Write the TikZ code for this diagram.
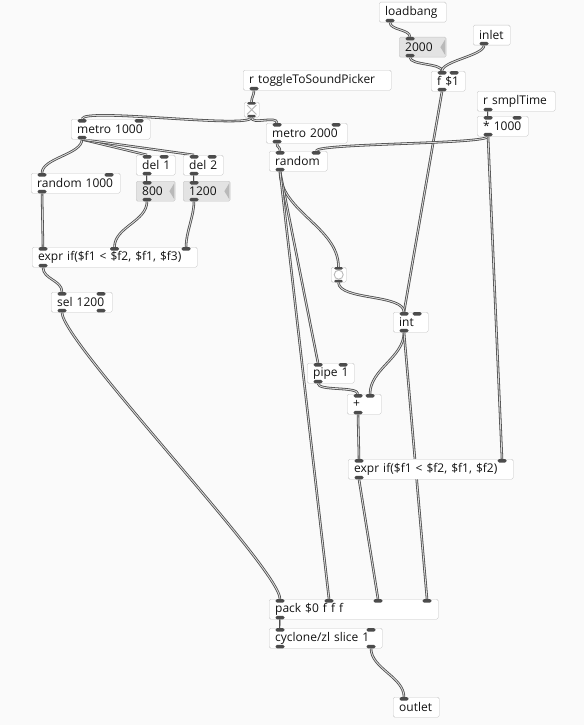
\documentclass[tikz,border=0pt]{standalone}
\usepackage{fontspec}
\setmainfont{Open Sans}
\usepackage{tikz}

\pgfdeclarelayer{bg}
\pgfdeclarelayer{wires}
\pgfsetlayers{bg,wires,main}

% inlets / outlets along one edge of a box
\newcommand{\pdports}[6]{%
  \ifnum#3>0
    \pgfmathsetmacro{\pins}{min(11,#2/2)}%
    \foreach \k in {1,...,#3}{%
      \pgfmathsetmacro{\px}{\pins+(\k-1)*(#2-2*\pins)/max(#3-1,1)}%
      \coordinate (#1-#5\k) at ([xshift=\px pt]#1.#4 west);
      \fill[port] ([xshift=-4.5pt]#1-#5\k) rectangle ++(9,#6);
    }%
  \fi}
% object box: [style]{name}{x,y}{width}{text}{inlets}{outlets}
\newcommand{\pdobj}[7][obj]{%
  \pgfmathsetmacro{\tw}{#4-12}%
  \node[#1, text width=\tw pt, anchor=north west] (#2) at (#3) {\mbox{#5}};
  \pdports{#2}{#4}{#6}{north}{i}{3.5}
  \pdports{#2}{#4}{#7}{south}{o}{-3.5}}

\begin{document}
\begin{tikzpicture}[
  x=1pt, y=-1pt,
  font=\fontsize{12}{14}\selectfont,
  obj/.style={draw=gray!45, fill=white, rounded corners=1.5pt, text=gray!15!black,
    minimum height=20pt, inner xsep=6pt, inner ysep=0pt, align=left},
  num/.style={obj, fill=gray!22},
  tgl/.style={draw=gray!50, fill=white, rounded corners=1.5pt, minimum size=15pt, inner sep=0pt},
  port/.style={fill=gray!60!black, rounded corners=1.5pt},
  wire/.style={draw=gray!60!black, double=gray!30, double distance=0.9pt, line width=0.8pt},
  pd/.style={to path={.. controls +(0,#1) and +(0,-#1) .. (\tikztotarget)}},
  pd/.default=10
]
\begin{pgfonlayer}{bg}
  \fill[black!2] (0,0) rectangle (584,725);
\end{pgfonlayer}
\useasboundingbox (0,0) rectangle (584,725);

% right branch
\pdobj{loadbang}{379,2}{67}{loadbang}{0}{1}
\pdobj[num]{num2000}{399,37}{47}{2000}{1}{1}
\pdobj{inlet}{473,25}{37}{inlet}{0}{1}
\pdobj{f1}{431,71}{34}{f \$1}{2}{1}
\pdobj{rsmpl}{477,91}{78}{r smplTime}{0}{1}
\pdobj{times1000}{477,116}{51}{* 1000}{2}{1}

% toggle and the two metros
\pdobj{rtoggle}{243,70}{148}{r toggleToSoundPicker}{0}{1}
\node[tgl, anchor=north west] (toggle) at (244,102) {};
\draw[gray!55, line width=1pt] ([shift={(3,3)}]toggle.north west) -- ([shift={(-3,-3)}]toggle.south east)
  ([shift={(-3,3)}]toggle.north east) -- ([shift={(3,-3)}]toggle.south west);
\pdports{toggle}{15}{1}{north}{i}{2.5}
\pdports{toggle}{15}{1}{south}{o}{-2.5}
\pdobj{metro1000}{71,119}{79}{metro 1000}{2}{1}
\pdobj{metro2000}{266,123}{81}{metro 2000}{2}{1}
\pdobj{random}{269,151}{58}{random}{2}{1}

% left chain
\pdobj{del1}{136,155}{39}{del 1}{2}{1}
\pdobj{del2}{183,155}{40}{del 2}{2}{1}
\pdobj[num]{num800}{136,181}{39}{800}{1}{1}
\pdobj[num]{num1200}{183,181}{47}{1200}{1}{1}
\pdobj{random1000}{31,173}{89}{random 1000}{2}{1}
\pdobj{exprA}{32,247}{165}{expr if(\$f1 < \$f2, \$f1, \$f3)}{3}{1}
\pdobj{sel1200}{51,292}{61}{sel 1200}{2}{2}

% middle chain
\node[tgl, anchor=north west] (bang) at (331,267) {};
\draw[gray!55, line width=0.9pt] (bang.center) circle[radius=4.5pt];
\pdports{bang}{15}{1}{north}{i}{2.5}
\pdports{bang}{15}{1}{south}{o}{-2.5}
\pdobj{int}{393,312}{35}{int}{2}{1}
\pdobj{pipe1}{307,363}{47}{pipe 1}{2}{1}
\pdobj{plus}{347,394}{34}{+}{2}{1}
\pdobj{exprB}{348,459}{165}{expr if(\$f1 < \$f2, \$f1, \$f2)}{2}{1}

% output
\pdobj{pack}{269,599}{169}{pack \$0 f f f}{4}{1}
\pdobj{zlslice}{269,628}{113}{cyclone/zl slice 1}{2}{2}
\pdobj{outlet}{393,697}{46}{outlet}{1}{0}

% number box flags
\foreach \n in {num2000,num800,num1200}
  \fill[gray!55] ([shift={(-1,2)}]\n.north east) -- ([shift={(-6,0)}]\n.east)
    -- ([shift={(-1,-2)}]\n.south east) -- cycle;

\begin{pgfonlayer}{wires}
\draw[wire] (loadbang-o1) to[pd=8] (num2000-i1);
\draw[wire] (num2000-o1) to[pd=8] (f1-i1);
\draw[wire] (inlet-o1) to[pd=10] (f1-i1);
\draw[wire] (f1-o1) to (int-i1);
\draw[wire] (rsmpl-o1) to[pd=3] (times1000-i1);
\draw[wire] (times1000-o1) to[pd=8] (random-i2);
\draw[wire] (times1000-o1) to (exprB-i2);
\draw[wire] (rtoggle-o1) to[pd=5] (toggle-i1);
\draw[wire] (toggle-o1) to[pd=12] (metro1000-i1);
\draw[wire] (toggle-o1) to[pd=8] (metro2000-i1);
\draw[wire] (metro2000-o1) to[pd=5] (random-i1);
\draw[wire] (metro1000-o1) to[pd=15] (random1000-i1);
\draw[wire] (metro1000-o1) to (del1-i1);
\draw[wire] (metro1000-o1) to (del2-i1);
\draw[wire] (del1-o1) to[pd=3] (num800-i1);
\draw[wire] (del2-o1) to[pd=3] (num1200-i1);
\draw[wire] (random1000-o1) to (exprA-i1);
\draw[wire] (num800-o1) to[pd=20] (exprA-i2);
\draw[wire] (num1200-o1) to[pd=15] (exprA-i3);
\draw[wire] (exprA-o1) to[pd=12] (sel1200-i1);
\draw[wire] (sel1200-o1) to[pd=30] (pack-i1);
\draw[wire] (random-o1) to[pd=40] (bang-i1);
\draw[wire] (random-o1) to (pipe1-i1);
\draw[wire] (random-o1) to (pack-i2);
\draw[wire] (bang-o1) to[pd=18] (int-i1);
\draw[wire] (int-o1) to[pd=25] (plus-i2);
\draw[wire] (int-o1) to (pack-i4);
\draw[wire] (pipe1-o1) to[pd=8] (plus-i1);
\draw[wire] (plus-o1) to[pd=5] (exprB-i1);
\draw[wire] (exprB-o1) to (pack-i3);
\draw[wire] (pack-o1) to[pd=3] (zlslice-i1);
\draw[wire] (zlslice-o2) to[pd=20] (outlet-i1);
\end{pgfonlayer}
\end{tikzpicture}
\end{document}
